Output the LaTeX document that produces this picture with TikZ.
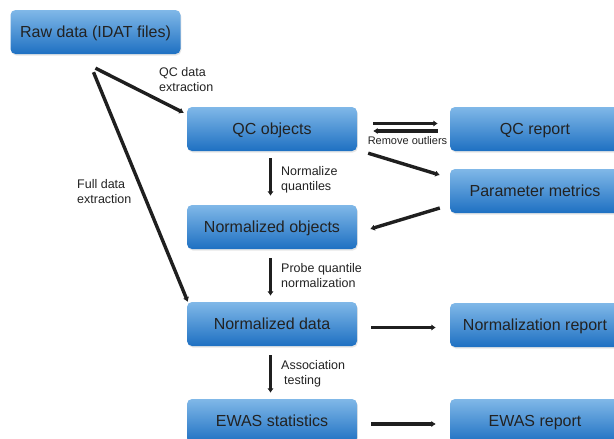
\documentclass[tikz,border=0pt]{standalone}
\usepackage{fontspec}
\setmainfont{Liberation Sans}
\usetikzlibrary{arrows.meta,calc,shadows}
\definecolor{boxtop}{HTML}{80B8E8}
\definecolor{boxbot}{HTML}{1E70C2}
\definecolor{txt}{HTML}{222222}
\tikzset{
  box/.style={rectangle, rounded corners=5pt, minimum width=170pt, minimum height=44pt,
    top color=boxtop, bottom color=boxbot, text=txt, inner sep=0pt,
    text height=12pt, text depth=0.6pt,
    font=\fontsize{16}{18}\selectfont,
    drop shadow={opacity=0.2, shadow xshift=0.8pt, shadow yshift=-1.5pt}},
  conn/.style={line width=3.4pt, draw=black!88, -{Latex[length=4.5pt,width=6.5pt]}},
  lbl/.style={align=left, text=txt, inner sep=0pt, anchor=west,
    font=\fontsize{12.5}{15}\selectfont},
}
\begin{document}
\begin{tikzpicture}[x=1pt,y=-1pt]
\useasboundingbox (0,0) rectangle (614,439);
\clip (0,0) rectangle (614,439);
\node[box] (raw)  at (95.5,32)  {Raw data (IDAT files)};
\node[box] (qc)   at (272,129)  {QC objects};
\node[box] (nobj) at (272,227)  {Normalized objects};
\node[box] (ndat) at (272,324)  {Normalized data};
\node[box] (ewas) at (272,421)  {EWAS statistics};
\node[box] (qcr)  at (535,129)  {QC report};
\node[box] (par)  at (535,191)  {Parameter metrics};
\node[box] (nrep) at (535,325)  {Normalization report};
\node[box] (erep) at (535,421)  {EWAS report};

\coordinate (r1) at ($(raw.south)+(0,14)$);
\coordinate (r2) at ($(raw.south)+(-2,18)$);
\draw[conn] (r1) -- ($(qc.north west)+(-3,6)$);
\draw[conn] (r2) -- ($(ndat.north west)+(1,0)$);

\draw[conn] ($(qc.east)+(16,-5.5)$) -- ($(qcr.west)+(-12,-5.5)$);
\draw[conn] ($(qcr.west)+(-12,2)$) -- ($(qc.east)+(16,2)$);
\draw[conn] ($(qc.south east)+(11,2)$) -- ($(par.west)+(-10,-16)$);
\draw[conn] ($(par.west)+(-10,17)$) -- ($(nobj.east)+(13,2)$);

\draw[conn] ($(qc.south)+(-1.5,7)$) -- ($(nobj.north)+(-1.5,-9)$);
\draw[conn] ($(nobj.south)+(-1.5,9)$) -- ($(ndat.north)+(-1.5,-6)$);
\draw[conn] ($(ndat.south)+(-1.5,9)$) -- ($(ewas.north)+(-1.5,-6)$);
\draw[conn] ($(ndat.east)+(14,3.5)$) -- ($(nrep.west)+(-14,2.5)$);
\draw[conn] ($(ewas.east)+(14,3)$) -- ($(erep.west)+(-14,3)$);

\node[lbl] (l1) at (159,80) {QC data\\extraction};
\node[lbl] (l2) at (77,192) {Full data\\extraction};
\node[lbl] (l3) at (281,180) {Normalize\\quantiles};
\node[lbl] (l4) at (281,276) {Probe quantile\\normalization};
\node[lbl] (l5) at (281,374) {Association\\\hspace{3pt}testing};
\node[lbl, anchor=center, font=\fontsize{11}{13}\selectfont] (l6) at (407.5,141) {Remove outliers};
\end{tikzpicture}
\end{document}
